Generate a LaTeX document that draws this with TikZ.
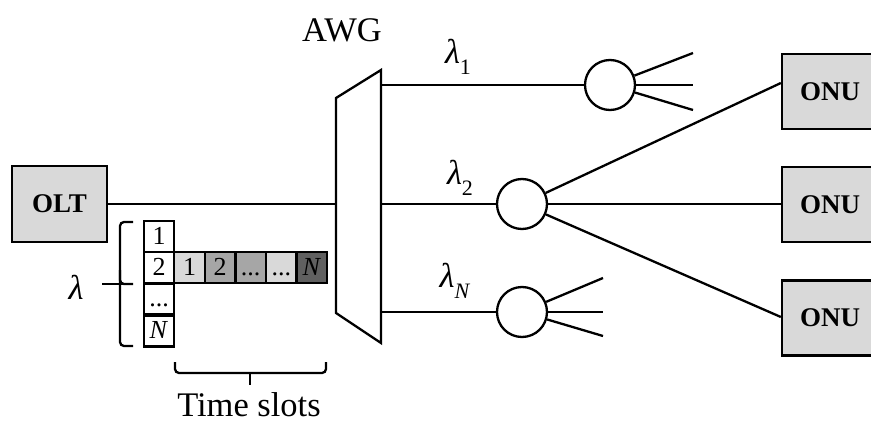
\documentclass[tikz,border=0pt]{standalone}
\usepackage{fontspec}
\setmainfont{Liberation Serif}
\definecolor{boxgray}{HTML}{D9D9D9}
\definecolor{midgray}{HTML}{A6A6A6}
\definecolor{darkgray2}{HTML}{606060}
\newcommand{\lamsub}[1]{\textit{λ}\raisebox{-0.3em}{\fontsize{22}{22}\selectfont #1}}
\tikzset{
  lw/.style={line width=2.3pt},
  unitbox/.style={draw, lw, fill=boxgray, inner sep=0pt, font=\fontsize{27}{30}\selectfont\bfseries},
  splitter/.style={draw, lw, circle, minimum size=50pt, inner sep=0pt, fill=white},
  cell/.style={draw, lw, inner sep=0pt, minimum width=30.6pt, minimum height=31pt, text height=17pt, text depth=2pt, font=\fontsize{26}{28}\selectfont},
  lbl/.style={inner sep=0pt, font=\fontsize{34.5}{38}\selectfont},
}
\begin{document}
\begin{tikzpicture}[x=1pt,y=-1pt]
\useasboundingbox (0,0) rectangle (871,431);
% OLT
\node[unitbox, minimum width=95pt, minimum height=76pt] (olt) at (59.5,204) {OLT};
% AWG
\draw[lw, line join=miter] (336,98) -- (381,70) -- (381,343) -- (336,313) -- cycle;
\coordinate (awgin) at (336,204);
\coordinate (out1) at (381,85);
\coordinate (out2) at (381,204);
\coordinate (out3) at (381,312);
\node[lbl] (awg) at (342,30) {AWG};
% splitters
\node[splitter] (s1) at (610,85) {};
\node[splitter] (s2) at (522,204) {};
\node[splitter] (s3) at (522,312) {};
% ONUs
\node[unitbox, minimum width=96pt, minimum height=75pt] (onu1) at (830,91.5) {ONU};
\node[unitbox, minimum width=96pt, minimum height=75pt] (onu2) at (830,204.5) {ONU};
\node[unitbox, minimum width=96pt, minimum height=75pt] (onu3) at (830,318) {ONU};
% connectors
\draw[lw] (olt) -- (awgin);
\draw[lw] (out1) -- (s1);
\draw[lw] (out2) -- (s2);
\draw[lw] (out3) -- (s3);
\draw[lw] (s2) -- ([yshift=8.5pt]onu1.west);
\draw[lw] (s2) -- (onu2.west |- s2);
\draw[lw] (s2) -- ([yshift=1pt]onu3.west);
% fans
\coordinate (f1a) at (693,53);
\coordinate (f1b) at (693,85);
\coordinate (f1c) at (693,110);
\coordinate (f3a) at (603,278);
\coordinate (f3b) at (603,312);
\coordinate (f3c) at (603,336);
\draw[lw] (s1) -- (f1a);
\draw[lw] (s1) -- (f1b);
\draw[lw] (s1) -- (f1c);
\draw[lw] (s3) -- (f3a);
\draw[lw] (s3) -- (f3b);
\draw[lw] (s3) -- (f3c);
% wavelength labels
\node[lbl] (l1) at (458,57) {\lamsub{1}};
\node[lbl] (l2) at (460,178) {\lamsub{2}};
\node[lbl] (lN) at (455,281) {\lamsub{\textit{N}}};
% grid column
\node[cell, fill=white] (c1) at (159,236.5) {1};
\node[cell, fill=white] (c2) at (159,267.5) {2};
\node[cell, fill=white] (c3) at (159,299) {...};
\node[cell, fill=white] (c4) at (159,331) {\textit{N}};
% grid row
\node[cell, fill=boxgray] (r1) at (189.5,267.5) {1};
\node[cell, fill=midgray] (r2) at (220.1,267.5) {2};
\node[cell, fill=midgray] (r3) at (250.7,267.5) {...};
\node[cell, fill=boxgray] (r4) at (281.3,267.5) {...};
\node[cell, fill=darkgray2] (r5) at (311.9,267.5) {\textit{N}};
% braces
\draw[lw, rounded corners=4pt] (133,222) -- (120,222) -- (120,284) -- (133,284);
\draw[lw, rounded corners=4pt] (120,270) -- (120,284) -- (120,346) -- (133,346);
\draw[lw, rounded corners=4pt] (124,284) -- (102,284);
\draw[lw, rounded corners=4pt] (175,362) -- (175,373) -- (326,373) -- (326,362);
\draw[lw] (250,373) -- (250,385);
\node[lbl] (lam) at (76,287) {\textit{λ}};
\node[lbl] (ts) at (249,405) {Time slots};
\end{tikzpicture}
\end{document}
